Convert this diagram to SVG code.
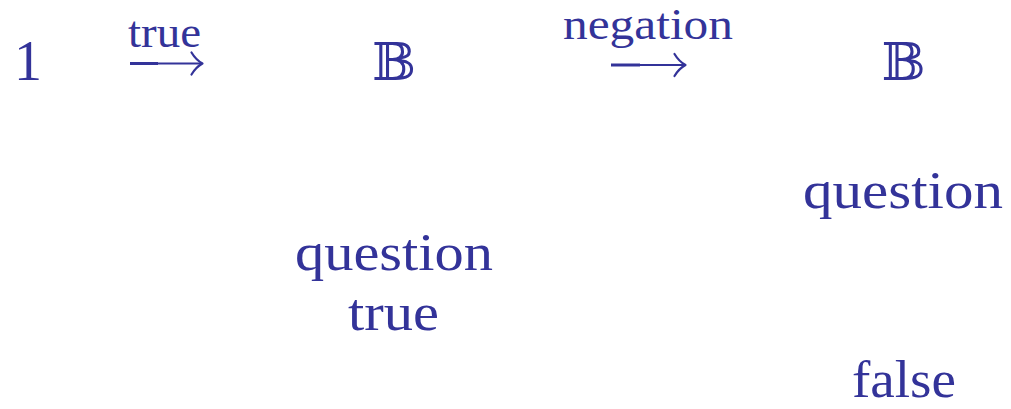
<svg xmlns="http://www.w3.org/2000/svg" width="1011" height="409" viewBox="0 0 1011 409">
  <style>
    text { fill: #333399; font-family: "Liberation Serif", "DejaVu Serif", serif; }
    .big { font-size: 52px; text-anchor: middle; }
    .lbl { font-size: 44px; text-anchor: middle; }
    .bb { font-family: "DejaVu Serif", "DejaVu Sans", serif; font-size: 52px; text-anchor: middle; }
    .shaft { stroke: #333399; fill: none; }
    .thick { stroke-width: 3; }
    .thin { stroke-width: 1.9; }
    .head { stroke: #333399; stroke-width: 2.2; fill: none; stroke-linecap: round; stroke-linejoin: round; }
  </style>
  <rect width="1011" height="409" fill="#ffffff"/>
  <g id="node-one">
    <text class="big" x="28" y="80" style="font-size:56px">1</text>
  </g>
  <g id="node-bool1">
    <text class="bb" x="394" y="80">𝔹</text>
  </g>
  <g id="node-bool2">
    <text class="bb" x="903.5" y="80">𝔹</text>
  </g>
  <g id="node-question-true">
    <text class="big" x="394" y="270" textLength="198" lengthAdjust="spacingAndGlyphs">question</text>
    <text class="big" x="393.5" y="330" textLength="91" lengthAdjust="spacingAndGlyphs">true</text>
  </g>
  <g id="node-question">
    <text class="big" x="903" y="208" textLength="200" lengthAdjust="spacingAndGlyphs">question</text>
  </g>
  <g id="node-false">
    <text class="big" x="904" y="397" textLength="104" lengthAdjust="spacingAndGlyphs">false</text>
  </g>
  <g id="connectors">
    <g id="arrow-true">
      <text class="lbl" x="164.5" y="47" textLength="73" lengthAdjust="spacingAndGlyphs">true</text>
      <line class="shaft thick" x1="130" y1="63.5" x2="158" y2="63.5"/>
      <line class="shaft thin" x1="157" y1="63.5" x2="201" y2="63.5"/>
      <path class="head" d="M191.5,52.5 Q196,60 202.5,63.5 Q196,67 191.5,74.5"/>
    </g>
    <g id="arrow-negation">
      <text class="lbl" x="648" y="39" textLength="170" lengthAdjust="spacingAndGlyphs">negation</text>
      <line class="shaft thick" x1="611" y1="65" x2="640" y2="65"/>
      <line class="shaft thin" x1="639" y1="65" x2="684" y2="65"/>
      <path class="head" d="M674.5,54 Q679,61.5 685.5,65 Q679,68.5 674.5,76"/>
    </g>
  </g>
</svg>
